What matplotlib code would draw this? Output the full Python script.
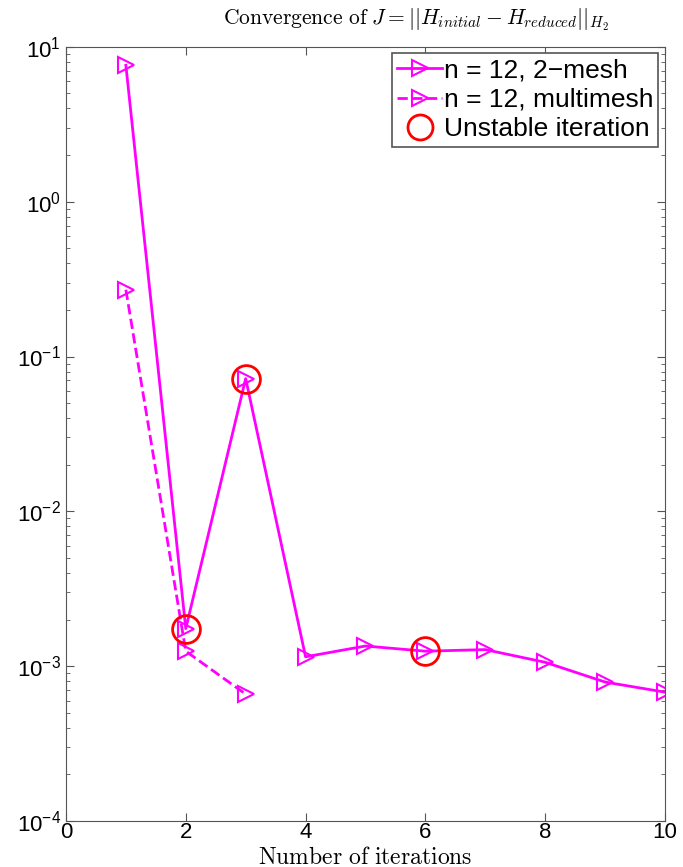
import numpy as np
import matplotlib
matplotlib.use("Agg")
import matplotlib.pyplot as plt
from matplotlib.lines import Line2D

plt.rcParams["font.family"] = ["Liberation Sans", "DejaVu Sans"]
plt.rcParams["mathtext.fontset"] = "cm"

# cost J per iteration
iters_2mesh = [1, 2, 3, 4, 5, 6, 7, 8, 9, 10]
J_2mesh = [7.6, 1.75e-3, 7.2e-2, 1.15e-3, 1.35e-3, 1.25e-3, 1.28e-3, 1.06e-3, 7.9e-4, 6.8e-4]
iters_multi = [1, 2, 3]
J_multi = [0.27, 1.25e-3, 6.6e-4]
unstable_iters = [2, 3, 6]
xticks = [0, 2, 4, 6, 8, 10]

mag = "#ff00ff"
fig = plt.figure(figsize=(6.83, 8.67), dpi=100)
ax = fig.add_axes([0.0966, 0.053, 0.877, 0.893])

ax.semilogy(iters_2mesh, J_2mesh, "-", color=mag, lw=2, marker=">",
            ms=11, mfc="none", mew=1.5)
ax.semilogy(iters_multi, J_multi, "--", color=mag, lw=2, marker=">",
            ms=11, mfc="none", mew=1.5)
unstable_J = [J_2mesh[iters_2mesh.index(i)] for i in unstable_iters]
ax.semilogy(unstable_iters, unstable_J, "o", color="red", ms=20,
            mfc="none", mew=2, ls="none")

ax.set_xlim(0, 10)
ax.set_ylim(1e-4, 1e1)
ax.set_xticks(xticks)
ax.tick_params(which="both", direction="in", top=True, right=True,
               labelsize=16, color="#555555")
ax.tick_params(which="major", length=6)
ax.tick_params(which="minor", length=3)
ax.tick_params(axis="x", pad=1)
for s in ax.spines.values():
    s.set_color("#555555")

ax.set_title(r"$\mathrm{Convergence\ of}\ J = ||H_{initial} - H_{reduced}||_{H_2}$",
             fontsize=15.5, pad=16, x=0.585)
ax.xaxis.set_label_coords(0.48, -0.033)
ax.set_xlabel(r"$\mathrm{Number\ of\ iterations}$", fontsize=17, va="top")

handles = [
    Line2D([], [], color=mag, lw=2, ls="-", marker=">", ms=11, mfc="none", mew=1.5),
    Line2D([], [], color=mag, lw=2, ls="--", marker=">", ms=11, mfc="none", mew=1.5),
    Line2D([], [], color="red", ls="none", marker="o", ms=18, mfc="none", mew=2),
]
leg = ax.legend(handles, ["n = 12, 2\u2212mesh", "n = 12, multimesh", "Unstable iteration"],
                loc="upper right", fontsize=19, fancybox=False, framealpha=1,
                edgecolor="#555555", handlelength=1.7, handletextpad=0.05,
                borderaxespad=0.25, borderpad=0.2, labelspacing=0.2)
leg.get_frame().set_linewidth(1.2)

fig.savefig("out.png", dpi=100)
